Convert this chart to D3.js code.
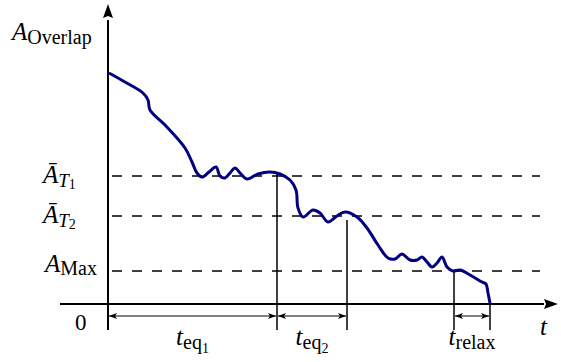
<!DOCTYPE html>
<html>
<head>
<meta charset="utf-8">
<script src="https://cdn.jsdelivr.net/npm/d3@7"></script>
<style>
    body { margin: 0; background: #fff; }
    text { font-family: "Liberation Serif", "DejaVu Serif", serif; fill: #000; }
</style>
</head>
<body>
<div id="chart"></div>
<script>
// curve A_Overlap(t)
const curveT = [1, 17, 35, 40, 42, 57, 77, 84, 89, 94, 101, 108, 112, 117, 122, 127, 132, 139, 150, 162,
    172, 182, 188, 190, 195, 205, 212, 220, 229, 237, 249, 259, 270, 280, 287, 294, 302, 309, 314, 319,
    324, 329, 334, 339, 345, 352, 362, 374, 378, 380, 382];
const curveA = [231, 222, 211, 204, 194, 179, 156, 142, 131, 127, 132, 137, 128, 126, 131, 136, 131, 125, 130, 132,
    130, 124, 114, 96, 87, 94, 91, 82, 88, 92, 87, 76, 59, 46, 45, 50, 44, 44, 47, 42,
    37, 41, 47, 37, 33, 34, 29, 22, 20, 11, 1];

// horizontal levels: mean A at T1, T2 and A_Max
const levelValues = [128, 88, 33];

// times that bound the intervals, and where each marker line starts
const eventTimes = [0, 169, 239, 346, 382];
const eventTops = [300, 130, 84, 33, 0];

// intervals [start, end] with label subscripts
const intervalStart = [0, 169, 346];
const intervalEnd = [169, 239, 382];
const intervalSub = ["eq", "eq", "relax"];
const intervalSubSub = ["1", "2", ""];

const width = 561, height = 362;

const x = d3.scaleLinear().domain([0, 450]).range([108, 558]);
const y = d3.scaleLinear().domain([0, 300]).range([304, 4]);

const svg = d3.select("#chart").append("svg")
    .attr("width", width)
    .attr("height", height);

const defs = svg.append("defs");
defs.append("marker")
    .attr("id", "head")
    .attr("viewBox", "0 0 8 6")
    .attr("refX", 8).attr("refY", 3)
    .attr("markerWidth", 8).attr("markerHeight", 6)
    .attr("markerUnits", "userSpaceOnUse")
    .attr("orient", "auto-start-reverse")
    .append("path")
    .attr("d", "M0,0 L8,3 L0,6 L2,3 Z")
    .attr("fill", "#000");

// dashed levels
svg.selectAll(".level")
    .data(levelValues)
    .enter().append("line")
    .attr("class", "level")
    .attr("x1", x(0)).attr("x2", x(432))
    .attr("y1", d => y(d)).attr("y2", d => y(d))
    .attr("stroke", "#000")
    .attr("stroke-width", 1.5)
    .attr("stroke-dasharray", "10,10")
    .attr("stroke-dashoffset", 16);

// vertical marker lines down past the axis
svg.selectAll(".event")
    .data(eventTimes.slice(1))
    .enter().append("line")
    .attr("class", "event")
    .attr("x1", d => x(d)).attr("x2", d => x(d))
    .attr("y1", (d, i) => y(eventTops[i + 1]))
    .attr("y2", y(-26))
    .attr("stroke", "#000")
    .attr("stroke-width", 1.5);

// axes
svg.append("line")
    .attr("x1", x(0)).attr("x2", x(0))
    .attr("y1", y(-26)).attr("y2", y(284))
    .attr("stroke", "#000").attr("stroke-width", 2);
svg.append("path")
    .attr("d", `M${x(0)},${y(300)} L${x(0) + 5},${y(286)} L${x(0)},${y(288)} L${x(0) - 5},${y(286)} Z`)
    .attr("fill", "#000");

svg.append("line")
    .attr("x1", x(-48)).attr("x2", x(436))
    .attr("y1", y(0)).attr("y2", y(0))
    .attr("stroke", "#000").attr("stroke-width", 2);
svg.append("path")
    .attr("d", `M${x(450)},${y(0)} L${x(436)},${y(0) - 5} L${x(438)},${y(0)} L${x(436)},${y(0) + 5} Z`)
    .attr("fill", "#000");

// double arrows for the intervals
svg.selectAll(".span")
    .data(intervalStart)
    .enter().append("line")
    .attr("class", "span")
    .attr("x1", d => x(d) + 1)
    .attr("x2", (d, i) => x(intervalEnd[i]) - 1)
    .attr("y1", y(-12)).attr("y2", y(-12))
    .attr("stroke", "#000")
    .attr("stroke-width", 1.2)
    .attr("marker-start", "url(#head)")
    .attr("marker-end", "url(#head)");

// the curve
const line = d3.line()
    .x(d => x(d[0]))
    .y(d => y(d[1]))
    .curve(d3.curveCatmullRom.alpha(0.5));

svg.append("path")
    .datum(curveT.map((t, i) => [t, curveA[i]]))
    .attr("d", line)
    .attr("fill", "none")
    .attr("stroke", "#000080")
    .attr("stroke-width", 3)
    .attr("stroke-linejoin", "round");

// labels
function label(px, py, parts, anchor) {
    let t = svg.append("text")
        .attr("x", px).attr("y", py)
        .attr("text-anchor", anchor || "start");
    parts.forEach(p => {
        t.append("tspan")
            .attr("font-style", p.italic ? "italic" : "normal")
            .attr("font-size", p.size + "px")
            .attr("dy", p.dy || 0)
            .text(p.text);
    });
    return t;
}

label(12, 40, [
    { text: "A", italic: true, size: 25 },
    { text: "Overlap", size: 20, dy: 4 }
]);

const levelSubs = [["T", "1"], ["T", "2"], ["Max", ""]];
levelValues.forEach((v, i) => {
    if (i < 2) {
        label(43, y(v) + 7, [
            { text: "\u0100", italic: true, size: 25 },
            { text: levelSubs[i][0], italic: true, size: 19, dy: 4 },
            { text: levelSubs[i][1], size: 14, dy: 2 }
        ]);
    } else {
        label(45, y(v) + 1, [
            { text: "A", italic: true, size: 25 },
            { text: levelSubs[i][0], size: 20, dy: 3 }
        ]);
    }
});

label(75, 330, [{ text: "0", size: 23 }]);
label(540, 335, [{ text: "t", italic: true, size: 25 }]);

intervalStart.forEach((s, i) => {
    const parts = [
        { text: "t", italic: true, size: 25 },
        { text: intervalSub[i], size: 20, dy: 4 }
    ];
    if (intervalSubSub[i]) parts.push({ text: intervalSubSub[i], size: 14, dy: 4 });
    label((x(s) + x(intervalEnd[i])) / 2, 345, parts, "middle");
});
</script>
</body>
</html>
